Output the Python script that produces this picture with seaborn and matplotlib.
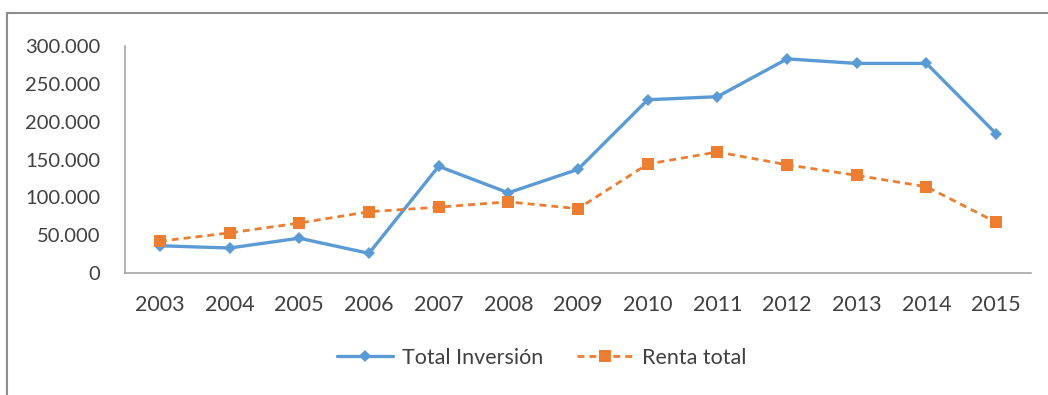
import matplotlib
matplotlib.use("Agg")
import matplotlib.pyplot as plt
from matplotlib.lines import Line2D
from matplotlib.ticker import FuncFormatter, MultipleLocator
import seaborn as sns
import pandas as pd

years = ["2003", "2004", "2005", "2006", "2007", "2008", "2009",
         "2010", "2011", "2012", "2013", "2014", "2015"]
total_inversion = [36000, 33000, 46000, 26000, 141000, 106000, 137000,
                   229000, 233000, 283000, 277000, 277000, 184000]
renta_total = [42000, 53000, 66000, 81000, 87000, 94000, 85000,
               144000, 160000, 143000, 129000, 114000, 67000]

series_names = ["Total Inversión", "Renta total"]
colors = {"Total Inversión": "#5B9BD5", "Renta total": "#ED7D31"}

df = pd.DataFrame({
    "year": years * 2,
    "value": total_inversion + renta_total,
    "serie": [series_names[0]] * len(years) + [series_names[1]] * len(years),
})

sns.set_theme(style="white")
plt.rcParams["font.family"] = ["Lato", "DejaVu Sans"]

fig = plt.figure(figsize=(10.48, 3.95), dpi=100)
ax = fig.add_axes([0.1193, 0.3089, 0.8645, 0.5746])

blue_style = dict(linewidth=2.4, marker="D", markersize=6, markeredgewidth=0)
orange_style = dict(linewidth=2.0, linestyle=(0, (2.5, 1.8)), marker="s",
                    markersize=9, markeredgewidth=0)

sns.lineplot(data=df[df.serie == series_names[0]], x="year", y="value",
             color=colors[series_names[0]], ax=ax, sort=False, **blue_style)
sns.lineplot(data=df[df.serie == series_names[1]], x="year", y="value",
             color=colors[series_names[1]], ax=ax, sort=False, **orange_style)

ax.set_xlim(-0.5, len(years) - 0.5)
ax.set_ylim(0, 300000)
ax.yaxis.set_major_locator(MultipleLocator(50000))
ax.yaxis.set_major_formatter(FuncFormatter(lambda v, p: f"{int(v):,}".replace(",", ".")))
ax.set_xlabel("")
ax.set_ylabel("")

text_color = "#404040"
ax.tick_params(axis="y", length=0, pad=18, labelsize=14.5, labelcolor=text_color)
ax.tick_params(axis="x", length=0, pad=16, labelsize=15.5, labelcolor=text_color)

for side in ("top", "right"):
    ax.spines[side].set_visible(False)
for side in ("left", "bottom"):
    ax.spines[side].set_color("#A6A6A6")
    ax.spines[side].set_linewidth(1.2)

handles = [
    Line2D([], [], color=colors[series_names[0]], **blue_style),
    Line2D([], [], color=colors[series_names[1]], **orange_style),
]
fig.legend(handles, series_names, loc="center", bbox_to_anchor=(0.517, 0.094),
           ncol=2, frameon=False, fontsize=15.5, handlelength=2.6,
           columnspacing=1.6, handletextpad=0.4, labelcolor=text_color)

# outer chart frame (top and left edges)
frame_color = "#8C8C8C"
fig.add_artist(Line2D([7 / 1048, 1.0], [1 - 13 / 395, 1 - 13 / 395],
                      transform=fig.transFigure, color=frame_color, linewidth=1.5))
fig.add_artist(Line2D([7 / 1048, 7 / 1048], [1 - 13 / 395, 0.0],
                      transform=fig.transFigure, color=frame_color, linewidth=1.5))

fig.savefig("out.png", dpi=100)
